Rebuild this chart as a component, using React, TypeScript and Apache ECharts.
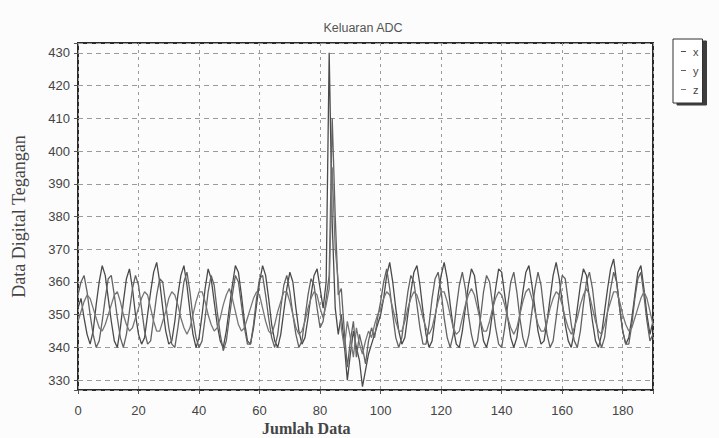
import React, { useEffect, useRef } from "react";
import * as echarts from "echarts";

const title = "Keluaran ADC";
const seriesNames = ["x", "y", "z"];
const xTicks = [0, 20, 40, 60, 80, 100, 120, 140, 160, 180];
const yTicks = [330, 340, 350, 360, 370, 380, 390, 400, 410, 420, 430];

const seriesX = [
  352, 355, 349, 344, 341, 345, 353, 360, 365, 362,
  355, 348, 342, 340, 346, 354, 361, 364, 358, 350,
  344, 341, 343, 350, 357, 363, 366, 360, 352, 345,
  341, 342, 348, 356, 362, 365, 359, 351, 344, 340,
  343, 350, 358, 364, 361, 354, 347, 342, 340, 345,
  352, 359, 365, 363, 356, 348, 342, 341, 346, 353,
  360, 365, 362, 355, 347, 342, 340, 344, 351, 358,
  363, 360, 352, 345, 341, 343, 349, 356, 362, 364,
  358, 352, 360, 430, 378, 352, 344, 350, 341, 330,
  338, 345, 340, 336, 328, 333, 338, 341, 344, 347,
  350, 355, 362, 366, 360, 352, 345, 341, 343, 350,
  357, 363, 365, 359, 351, 344, 340, 342, 349, 356,
  362, 366, 361, 353, 346, 341, 340, 345, 352, 359,
  364, 362, 355, 348, 342, 340, 344, 351, 358, 364,
  363, 356, 349, 343, 340, 343, 350, 357, 363, 365,
  359, 352, 345, 341, 342, 348, 355, 362, 366, 361,
  354, 347, 342, 340, 345, 352, 359, 364, 362, 355,
  348, 342, 340, 344, 351, 358, 364, 367, 360, 352,
  345, 341, 343, 349, 356, 363, 365, 358, 350, 344,
  348,
];

const seriesY = [
  356, 360, 362, 357, 350, 344, 340, 342, 348, 355,
  361, 362, 356, 349, 343, 340, 344, 351, 358, 362,
  359, 352, 345, 341, 342, 349, 356, 361, 360, 353,
  346, 341, 340, 346, 353, 360, 363, 357, 349, 343,
  340, 342, 349, 357, 362, 359, 351, 344, 339, 342,
  349, 356, 362, 360, 353, 346, 341, 341, 347, 355,
  361, 362, 356, 349, 343, 340, 344, 352, 359, 362,
  357, 350, 344, 340, 342, 349, 356, 361, 359, 352,
  346, 348, 355, 362, 410, 380, 356, 358, 345, 334,
  342, 348, 337, 344, 340, 335, 342, 346, 343, 349,
  354, 360, 364, 358, 350, 343, 340, 343, 350, 357,
  362, 360, 353, 346, 341, 341, 347, 355, 361, 363,
  357, 349, 343, 340, 344, 352, 359, 363, 358, 350,
  344, 340, 342, 349, 357, 362, 360, 353, 346, 341,
  340, 346, 353, 360, 363, 357, 349, 343, 340, 344,
  351, 358, 363, 359, 351, 344, 340, 342, 349, 356,
  362, 361, 354, 347, 342, 340, 345, 353, 360, 363,
  358, 350, 343, 340, 343, 351, 358, 363, 360, 352,
  345, 341, 341, 347, 355, 361, 363, 356, 348, 342,
  344,
];

const seriesZ = [
  348, 351, 354, 356, 355, 352, 349, 346, 345, 347,
  350, 353, 356, 357, 354, 350, 347, 345, 346, 349,
  352, 355, 357, 356, 352, 348, 345, 345, 348, 351,
  355, 357, 356, 353, 349, 346, 344, 346, 350, 354,
  357, 357, 354, 350, 347, 345, 346, 349, 353, 356,
  358, 355, 351, 347, 345, 346, 349, 352, 355, 357,
  356, 352, 348, 345, 344, 347, 351, 354, 357, 357,
  354, 350, 346, 344, 345, 348, 352, 355, 357, 356,
  352, 349, 353, 358, 395, 370, 360, 346, 340, 348,
  343, 337, 346, 341, 338, 342, 345, 343, 347, 350,
  352, 355, 357, 356, 352, 348, 345, 345, 348, 352,
  355, 357, 356, 353, 349, 346, 344, 346, 350, 354,
  357, 357, 354, 350, 346, 344, 345, 349, 353, 356,
  358, 356, 352, 348, 345, 345, 348, 352, 355, 357,
  356, 353, 349, 346, 344, 346, 350, 354, 357, 358,
  355, 351, 347, 345, 345, 348, 352, 355, 357, 356,
  353, 349, 346, 344, 346, 349, 353, 356, 358, 356,
  352, 348, 345, 344, 347, 351, 354, 357, 357, 354,
  350, 347, 345, 346, 349, 352, 355, 357, 355, 351,
  347,
];

const seriesData = [seriesX, seriesY, seriesZ];
const lineColors = ["#4a4a4a", "#626262", "#767676"];

export default function App() {
  const ref = useRef<HTMLDivElement>(null);
  useEffect(() => {
    if (!ref.current) return;
    const chart = echarts.init(ref.current, null, { renderer: "svg" });
    const xSet = new Set(xTicks);
    const ySet = new Set(yTicks);
    chart.setOption({
      animation: false,
      backgroundColor: "#fcfcfc",
      title: {
        text: title,
        left: 358,
        top: 16,
        textAlign: "center",
        textStyle: { fontSize: 12.5, fontWeight: "normal", color: "#555", fontFamily: "Liberation Sans, Arial, sans-serif" },
      },
      legend: {
        data: seriesNames,
        orient: "vertical",
        left: 673,
        top: 39,
        padding: [7, 4, 8, 8],
        itemGap: 8,
        itemWidth: 5,
        itemHeight: 1,
        icon: "rect",
        backgroundColor: "#fff",
        borderColor: "#333",
        borderWidth: 1,
        shadowColor: "rgba(40,40,40,0.9)",
        shadowBlur: 0,
        shadowOffsetX: 4,
        shadowOffsetY: 2,
        textStyle: { fontSize: 11, color: "#444", padding: [0, 0, 0, 2], fontFamily: "Liberation Sans, Arial, sans-serif" },
      },
      graphic: [
        {
          type: "text",
          left: 262,
          top: 420,
          style: {
            text: "Jumlah Data",
            fontFamily: "Liberation Serif, Times New Roman, serif",
            fontSize: 16,
            fontWeight: "bold",
            fill: "#444",
          },
        },
      ],
      grid: {
        left: 78,
        top: 43,
        right: 66,
        bottom: 48,
        show: true,
        borderColor: "#2a2a2a",
        borderWidth: 2,
        backgroundColor: "transparent",
      },
      xAxis: {
        type: "value",
        min: 0,
        max: 190,
        interval: 20,
        axisLine: { show: false },
        axisTick: { show: true, length: 4, lineStyle: { color: "#555" } },
        axisLabel: {
          margin: 14,
          fontSize: 13,
          color: "#444",
          fontFamily: "Liberation Sans, Arial, sans-serif",
          formatter: (v: number) => (xSet.has(v) ? String(v) : ""),
        },
        splitLine: { show: true, lineStyle: { color: "#9a9a9a", type: [3, 4], width: 1 } },
      },
      yAxis: {
        type: "value",
        min: 327,
        max: 433,
        splitNumber: 10,
        name: "Data Digital Tegangan",
        nameLocation: "middle",
        nameGap: 50,
        nameTextStyle: {
          fontFamily: "Liberation Serif, Times New Roman, serif",
          fontSize: 18,
          color: "#444",
        },
        axisLine: { show: false },
        axisTick: { show: true, length: 4, lineStyle: { color: "#555" } },
        axisLabel: {
          margin: 8,
          fontSize: 13,
          color: "#444",
          fontFamily: "Liberation Sans, Arial, sans-serif",
          formatter: (v: number) => (ySet.has(v) ? String(v) : ""),
        },
        splitLine: { show: true, lineStyle: { color: "#9a9a9a", type: [5, 4], width: 1 } },
      },
      series: seriesNames.map((n, i) => ({
        name: n,
        type: "line",
        data: seriesData[i].map((v, k) => [k, v]),
        showSymbol: false,
        symbol: "none",
        color: lineColors[i],
        lineStyle: { width: 1.3, color: lineColors[i] },
      })),
    });
    return () => chart.dispose();
  }, []);
  return (
    <div
      ref={ref}
      style={{ position: "absolute", left: 0, top: 0, width: 719, height: 438 }}
    />
  );
}
